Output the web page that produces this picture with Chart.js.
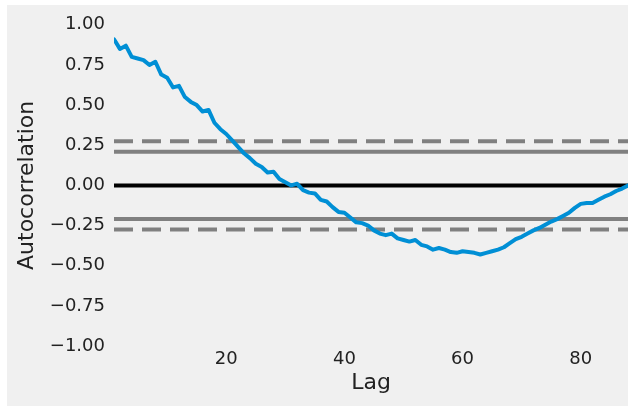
<!DOCTYPE html>
<html>
<head>
<meta charset="utf-8">
<script src="https://cdn.jsdelivr.net/npm/chart.js"></script>
<style>
  html, body { margin: 0; padding: 0; background: #fff; }
  #wrap { position: absolute; left: 7px; top: 5px; width: 621px; height: 401px; background: #f0f0f0; }
</style>
</head>
<body>
<div id="wrap"><canvas id="acfChart"></canvas></div>
<script>
// autocorrelation for lags 1..88
const acf = [
  0.91, 0.85, 0.87, 0.80, 0.79, 0.78, 0.75, 0.77, 0.69, 0.67,
  0.61, 0.62, 0.55, 0.52, 0.50, 0.46, 0.47, 0.39, 0.35, 0.32,
  0.28, 0.24, 0.20, 0.17, 0.135, 0.115, 0.08, 0.085, 0.04, 0.02,
  0.00, 0.01, -0.03, -0.045, -0.05, -0.09, -0.10, -0.135, -0.165, -0.17,
  -0.20, -0.23, -0.235, -0.25, -0.28, -0.30, -0.31, -0.30, -0.33, -0.34,
  -0.35, -0.34, -0.37, -0.38, -0.40, -0.39, -0.40, -0.415, -0.42, -0.41,
  -0.415, -0.42, -0.43, -0.42, -0.41, -0.40, -0.385, -0.36, -0.335, -0.32,
  -0.30, -0.28, -0.265, -0.245, -0.225, -0.21, -0.19, -0.17, -0.14, -0.115,
  -0.11, -0.11, -0.09, -0.07, -0.055, -0.035, -0.02, 0.0
];
const lags = acf.map((v, i) => i + 1);
const xTicks = [20, 40, 60, 80];
const yTicks = [-1, -0.75, -0.5, -0.25, 0, 0.25, 0.5, 0.75, 1];
const conf95 = 0.209;
const conf99 = 0.275;
const lagMin = 1, lagMax = 88;

Chart.defaults.font.family = 'DejaVu Sans';
Chart.defaults.color = '#222';

function hline(y, color, dash) {
  return {
    data: [{x: lagMin, y: y}, {x: lagMax, y: y}],
    borderColor: color,
    borderWidth: 4,
    borderDash: dash || [],
    pointRadius: 0
  };
}

const ctx = document.getElementById('acfChart').getContext('2d');

new Chart(ctx, {
  type: 'line',
  data: {
    datasets: [
      {
        data: lags.map((l, i) => ({x: l, y: acf[i]})),
        borderColor: '#008fd5',
        borderWidth: 4,
        borderJoinStyle: 'round',
        borderCapStyle: 'round',
        pointRadius: 0,
        tension: 0
      },
      hline(0, '#000000'),
      hline(conf95, '#808080'),
      hline(-conf95, '#808080'),
      hline(conf99, '#808080', [19, 9]),
      hline(-conf99, '#808080', [19, 9])
    ]
  },
  options: {
    responsive: true,
    maintainAspectRatio: false,
    animation: false,
    layout: { padding: { top: 17, right: 0, bottom: 0, left: 0 } },
    plugins: { legend: { display: false }, tooltip: { enabled: false } },
    scales: {
      x: {
        type: 'linear',
        min: lagMin,
        max: lagMax,
        grid: { display: false, drawTicks: false },
        border: { display: false },
        afterBuildTicks: s => { s.ticks = xTicks.map(v => ({value: v})); },
        afterFit: s => { s.height = 60; },
        ticks: { font: { size: 18 }, padding: 3 },
        title: { display: true, text: 'Lag', font: { size: 22 }, color: '#222', padding: { top: 0, bottom: 10 } }
      },
      y: {
        min: -1,
        max: 1,
        grid: { display: false, drawTicks: false },
        border: { display: false },
        afterBuildTicks: s => { s.ticks = yTicks.map(v => ({value: v})); },
        afterFit: s => { s.width = 107; },
        ticks: {
          font: { size: 18 },
          padding: 9,
          callback: v => v.toFixed(2).replace('-', '\u2212')
        },
        title: { display: true, text: 'Autocorrelation', font: { size: 22 }, color: '#222', padding: { top: 7, bottom: 0 } }
      }
    }
  }
});
</script>
</body>
</html>
